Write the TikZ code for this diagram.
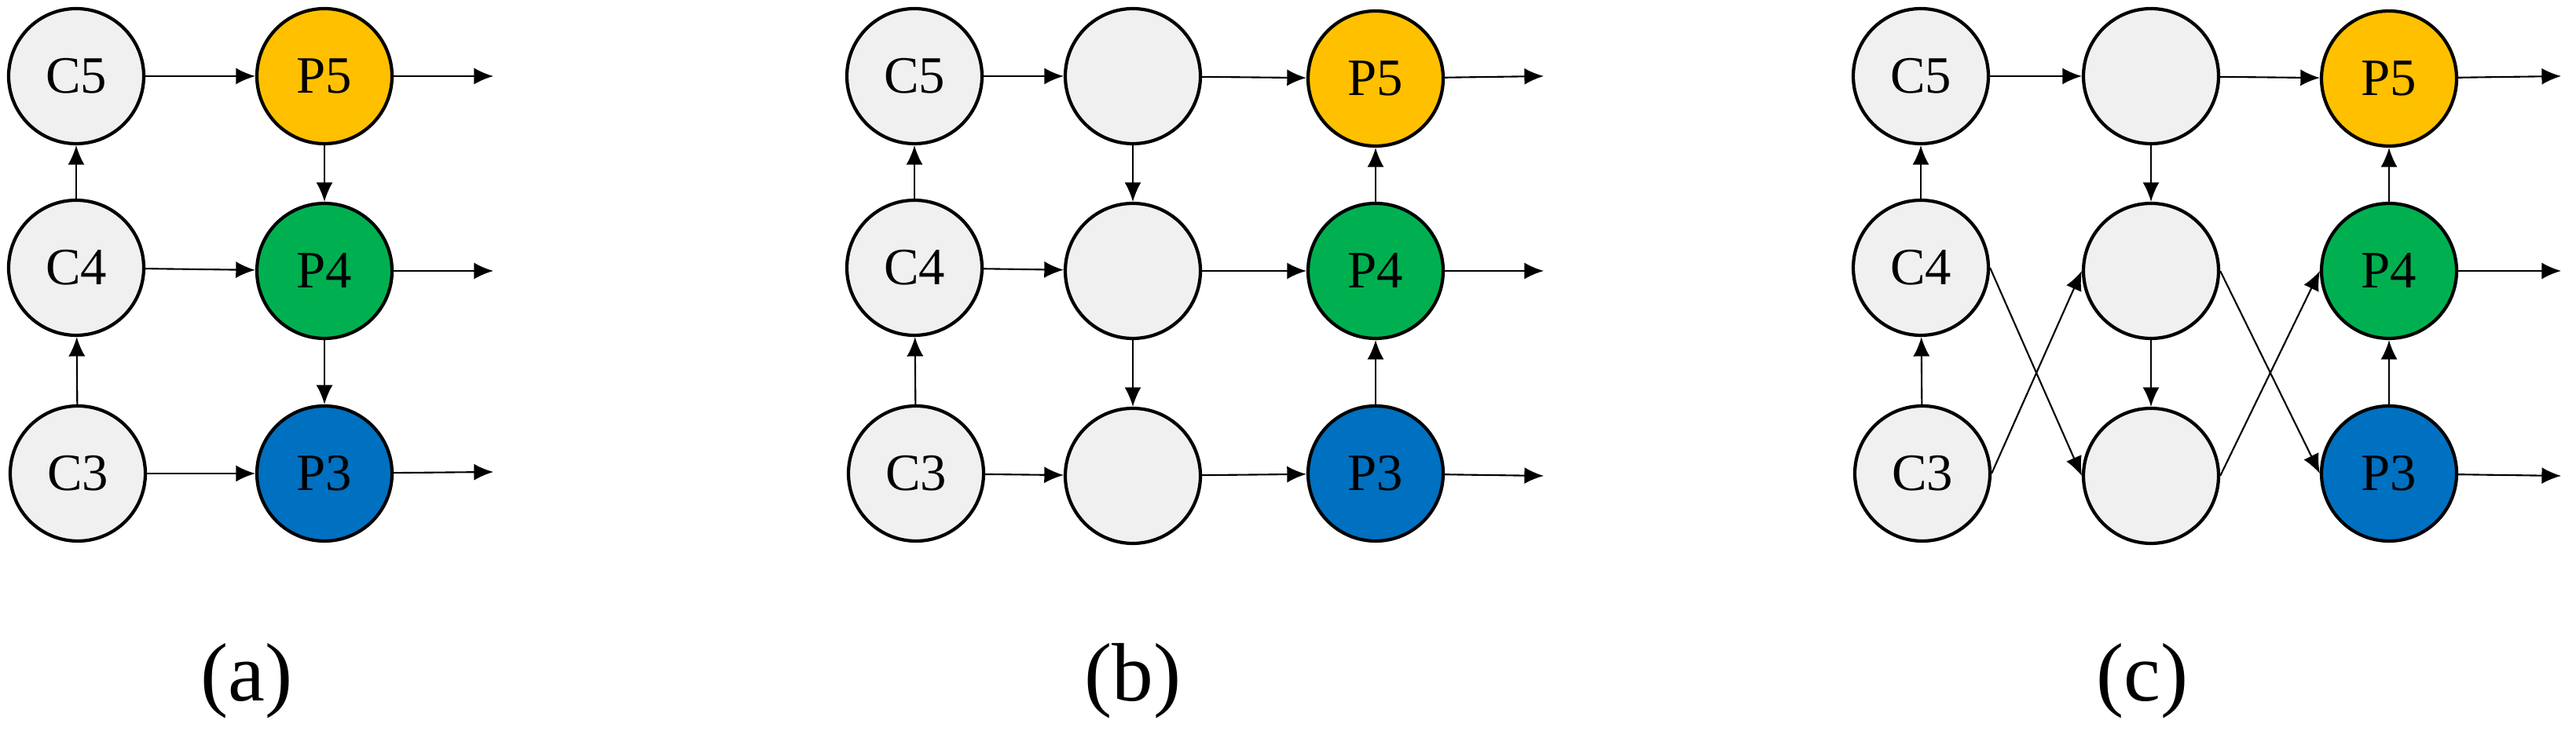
\documentclass[tikz,border=0pt]{standalone}
\usepackage{fontspec}
\setmainfont{Liberation Serif}
\usetikzlibrary{arrows.meta,positioning}

\begin{document}
\begin{tikzpicture}[-{Latex[length=7pt,width=6pt]},semithick,
    cnode/.style={circle, draw=black, line width=1.2pt, fill=gray!12, minimum size=1.72cm, inner sep=0pt, font=\fontsize{19}{22}\selectfont},
    p5node/.style={cnode, fill=yellow!60!orange!95},
    p4node/.style={cnode, fill=green!70!black!95},
    p3node/.style={cnode, fill=blue!60!cyan!80!black},
    caption/.style={font=\fontsize{30}{36}\selectfont}]
  \useasboundingbox (0,0) rectangle (32.79,9.36);
  \definecolor{pyel}{RGB}{255,192,0}
  \definecolor{pgrn}{RGB}{0,176,80}
  \definecolor{pblu}{RGB}{0,112,192}
  \tikzset{p5node/.style={cnode, fill=pyel}, p4node/.style={cnode, fill=pgrn}, p3node/.style={cnode, fill=pblu}}

  % (a)
  \node[cnode]  (aC5) at (0.97,8.39) {C5};
  \node[cnode]  (aC4) at (0.97,5.95) {C4};
  \node[cnode]  (aC3) at (0.99,3.33) {C3};
  \node[p5node] (aP5) at (4.13,8.39) {P5};
  \node[p4node] (aP4) at (4.13,5.91) {P4};
  \node[p3node] (aP3) at (4.13,3.33) {P3};
  \coordinate (aO5) at (6.28,8.39);
  \coordinate (aO4) at (6.28,5.91);
  \coordinate (aO3) at (6.28,3.35);
  \draw (aC5) -- (aP5);
  \draw (aC4) -- (aP4);
  \draw (aC3) -- (aP3);
  \draw (aC4) -- (aC5);
  \draw (aC3) -- (aC4);
  \draw (aP5) -- (aP4);
  \draw (aP4) -- (aP3);
  \node[caption] (la) at (3.14,0.69) {(a)};

  % (b)
  \node[cnode]  (bC5) at (11.64,8.39) {C5};
  \node[cnode]  (bC4) at (11.64,5.95) {C4};
  \node[cnode]  (bC3) at (11.66,3.33) {C3};
  \node[cnode]  (bM5) at (14.42,8.39) {};
  \node[cnode]  (bM4) at (14.42,5.91) {};
  \node[cnode]  (bM3) at (14.42,3.30) {};
  \node[p5node] (bP5) at (17.51,8.36) {P5};
  \node[p4node] (bP4) at (17.51,5.91) {P4};
  \node[p3node] (bP3) at (17.51,3.33) {P3};
  \coordinate (bO5) at (19.65,8.39);
  \coordinate (bO4) at (19.65,5.91);
  \coordinate (bO3) at (19.65,3.30);
  \draw (bC5) -- (bM5);
  \draw (bC4) -- (bM4);
  \draw (bC3) -- (bM3);
  \draw (bM5) -- (bP5);
  \draw (bM4) -- (bP4);
  \draw (bM3) -- (bP3);
  \draw (bC4) -- (bC5);
  \draw (bC3) -- (bC4);
  \draw (bM5) -- (bM4);
  \draw (bM4) -- (bM3);
  \draw (bP4) -- (bP5);
  \draw (bP3) -- (bP4);
  \node[caption] (lb) at (14.42,0.69) {(b)};

  % (c)
  \node[cnode]  (cC5) at (24.45,8.39) {C5};
  \node[cnode]  (cC4) at (24.45,5.95) {C4};
  \node[cnode]  (cC3) at (24.47,3.33) {C3};
  \node[cnode]  (cM5) at (27.38,8.39) {};
  \node[cnode]  (cM4) at (27.38,5.91) {};
  \node[cnode]  (cM3) at (27.38,3.30) {};
  \node[p5node] (cP5) at (30.41,8.36) {P5};
  \node[p4node] (cP4) at (30.41,5.91) {P4};
  \node[p3node] (cP3) at (30.41,3.33) {P3};
  \coordinate (cO5) at (32.60,8.39);
  \coordinate (cO4) at (32.60,5.91);
  \coordinate (cO3) at (32.60,3.30);
  \draw (cC5) -- (cM5);
  \draw (cC4.east) -- (cM3.west);
  \draw (cC3.east) -- (cM4.west);
  \draw (cM5) -- (cP5);
  \draw (cM4.east) -- (cP3.west);
  \draw (cM3.east) -- (cP4.west);
  \draw (cC4) -- (cC5);
  \draw (cC3) -- (cC4);
  \draw (cM5) -- (cM4);
  \draw (cM4) -- (cM3);
  \draw (cP4) -- (cP5);
  \draw (cP3) -- (cP4);
  \node[caption] (lc) at (27.27,0.69) {(c)};

  % outputs
  \foreach \p in {a,b,c}
    \foreach \r in {5,4,3}
      \draw (\p P\r) -- (\p O\r);
\end{tikzpicture}
\end{document}
